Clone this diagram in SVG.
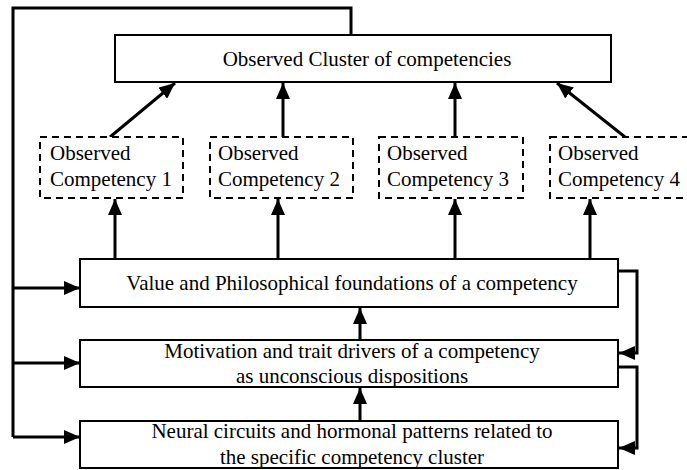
<svg xmlns="http://www.w3.org/2000/svg" width="687" height="470" viewBox="0 0 687 470">
<style>
.box{fill:#fff;stroke:#000;stroke-width:2}
.dbox{fill:#fff;stroke:#000;stroke-width:2;stroke-dasharray:7 5}
.t{font-family:"Liberation Serif","Times New Roman",serif;font-size:21px;fill:#000}
.c{text-anchor:middle}
.ln{fill:none;stroke:#000;stroke-width:3}
</style>
<defs>
<marker id="ah" markerUnits="userSpaceOnUse" markerWidth="16" markerHeight="14" refX="16" refY="7" orient="auto">
<path d="M0,0 L16,7 L0,14 z" fill="#000"/>
</marker>
</defs>
<g id="connectors">
<path class="ln" d="M351,35 V8 H13 V437"/>
<path class="ln" d="M13,288 H80" marker-end="url(#ah)"/>
<path class="ln" d="M13,363 H80" marker-end="url(#ah)"/>
<path class="ln" d="M13,437 H80" marker-end="url(#ah)"/>
<path class="ln" d="M110,137 L175,83" marker-end="url(#ah)"/>
<path class="ln" d="M283,137 V83" marker-end="url(#ah)"/>
<path class="ln" d="M455,137 V83" marker-end="url(#ah)"/>
<path class="ln" d="M625,137 L557,83" marker-end="url(#ah)"/>
<path class="ln" d="M115,259 V199" marker-end="url(#ah)"/>
<path class="ln" d="M278,259 V199" marker-end="url(#ah)"/>
<path class="ln" d="M455,259 V199" marker-end="url(#ah)"/>
<path class="ln" d="M590,259 V199" marker-end="url(#ah)"/>
<path class="ln" d="M360,340 V308" marker-end="url(#ah)"/>
<path class="ln" d="M360,421 V388" marker-end="url(#ah)"/>
<path class="ln" d="M618,271 H637 V353 H619" marker-end="url(#ah)"/>
<path class="ln" d="M618,367 H637 V448 H619" marker-end="url(#ah)"/>
</g>
<g id="cluster">
<rect class="box" x="115" y="35" width="496" height="47"/>
<text class="t c" x="367" y="66">Observed Cluster of competencies</text>
</g>
<g id="comp1">
<rect class="dbox" x="40" y="137" width="143" height="61"/>
<text class="t" x="50" y="160">Observed</text>
<text class="t" x="50" y="186">Competency 1</text>
</g>
<g id="comp2">
<rect class="dbox" x="210" y="137" width="143" height="61"/>
<text class="t" x="218" y="160">Observed</text>
<text class="t" x="218" y="186">Competency 2</text>
</g>
<g id="comp3">
<rect class="dbox" x="379" y="137" width="144" height="61"/>
<text class="t" x="387" y="160">Observed</text>
<text class="t" x="387" y="186">Competency 3</text>
</g>
<g id="comp4">
<rect class="dbox" x="550" y="137" width="150" height="61"/>
<text class="t" x="558" y="160">Observed</text>
<text class="t" x="558" y="186">Competency 4</text>
</g>
<g id="value">
<rect class="box" x="80" y="259" width="538" height="48"/>
<text class="t c" x="352" y="290">Value and Philosophical foundations of a competency</text>
</g>
<g id="motivation">
<rect class="box" x="80" y="340" width="538" height="47"/>
<text class="t c" x="352" y="358">Motivation and trait drivers of a competency</text>
<text class="t c" x="352" y="383">as unconscious dispositions</text>
</g>
<g id="neural">
<rect class="box" x="80" y="421" width="538" height="47"/>
<text class="t c" x="352" y="438">Neural circuits and hormonal patterns related to</text>
<text class="t c" x="352" y="464">the specific competency cluster</text>
</g>
</svg>
